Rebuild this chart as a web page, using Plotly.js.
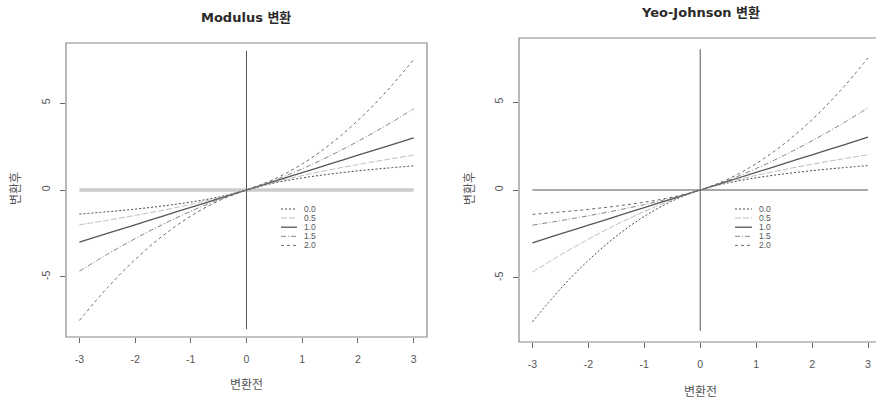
<!DOCTYPE html>
<html>
<head>
<meta charset="utf-8">
<script src="https://cdn.plot.ly/plotly-3.0.1.min.js"></script>
<style>html,body{margin:0;padding:0;background:#fff;}#chart{width:876px;height:401px;}</style>
</head>
<body>
<div id="chart"></div>
<script>
// ---- data ----
var xVals = [-3,-2.5,-2,-1.5,-1,-0.5,0,0.5,1,1.5,2,2.5,3];
var lambdaLabels = ["0.0","0.5","1.0","1.5","2.0"];

var modulus00 = [-1.386,-1.253,-1.099,-0.916,-0.693,-0.405,0,0.405,0.693,0.916,1.099,1.253,1.386];
var modulus05 = [-2.000,-1.742,-1.464,-1.162,-0.828,-0.449,0,0.449,0.828,1.162,1.464,1.742,2.000];
var modulus10 = [-3,-2.5,-2,-1.5,-1,-0.5,0,0.5,1,1.5,2,2.5,3];
var modulus15 = [-4.667,-3.699,-2.797,-1.969,-1.219,-0.558,0,0.558,1.219,1.969,2.797,3.699,4.667];
var modulus20 = [-7.5,-5.625,-4,-2.625,-1.5,-0.625,0,0.625,1.5,2.625,4,5.625,7.5];

var yeoJohnson00 = [-7.5,-5.625,-4,-2.625,-1.5,-0.625,0,0.405,0.693,0.916,1.099,1.253,1.386];
var yeoJohnson05 = [-4.667,-3.699,-2.797,-1.969,-1.219,-0.558,0,0.449,0.828,1.162,1.464,1.742,2.000];
var yeoJohnson10 = [-3,-2.5,-2,-1.5,-1,-0.5,0,0.5,1,1.5,2,2.5,3];
var yeoJohnson15 = [-2.000,-1.742,-1.464,-1.162,-0.828,-0.449,0,0.558,1.219,1.969,2.797,3.699,4.667];
var yeoJohnson20 = [-1.386,-1.253,-1.099,-0.916,-0.693,-0.405,0,0.625,1.5,2.625,4,5.625,7.5];

var xTicks = [-3,-2,-1,0,1,2,3];
var xTickText = ["-3","-2","-1","0","1","2","3"];
var yTicks = [-5,0,5];
var yTickText = ["-5","0","5"];
var refHx = [-3,3], refHy = [0,0];
var refVx = [0,0], refVy = [-8,8];

var panelTitles = ["Modulus 변환","Yeo-Johnson 변환"];
var xTitle = "변환전", yTitle = "변환후";

// ---- styles ----
var W = 876, H = 401;
var FONT = "Liberation Sans, Arial, 'Noto Sans CJK KR', sans-serif";
var TFONT = "DejaVu Sans, 'Noto Sans CJK KR', sans-serif";
var styles = [
  {color:'#4a4a4a', dash:'2px,2px', width:1},
  {color:'#c0c0c0', dash:'6px,2px', width:1},
  {color:'#555555', dash:'solid', width:1.3},
  {color:'#858585', dash:'5px,2px,1px,2px', width:1},
  {color:'#6a6a6a', dash:'3px,3px', width:1}
];
var modSeries = [modulus00, modulus05, modulus10, modulus15, modulus20];
var yjSeries = [yeoJohnson00, yeoJohnson05, yeoJohnson10, yeoJohnson15, yeoJohnson20];

var traces = [];
// reference lines
traces.push({x:refHx, y:refHy, xaxis:'x', yaxis:'y', mode:'lines', line:{color:'#cccccc', width:3.5}, hoverinfo:'skip'});
traces.push({x:refVx, y:refVy, xaxis:'x', yaxis:'y', mode:'lines', line:{color:'#555', width:1}, hoverinfo:'skip'});
traces.push({x:refHx, y:refHy, xaxis:'x2', yaxis:'y2', mode:'lines', line:{color:'#555', width:1.2}, hoverinfo:'skip'});
traces.push({x:refVx, y:refVy, xaxis:'x2', yaxis:'y2', mode:'lines', line:{color:'#555', width:1}, hoverinfo:'skip'});
for (var i=0;i<5;i++){
  traces.push({x:xVals, y:modSeries[i], xaxis:'x', yaxis:'y', mode:'lines', name:lambdaLabels[i],
    line:{color:styles[i].color, dash:styles[i].dash, width:styles[i].width, shape:'spline'}});
  traces.push({x:xVals, y:yjSeries[i], xaxis:'x2', yaxis:'y2', mode:'lines', name:lambdaLabels[i],
    line:{color:styles[i].color, dash:styles[i].dash, width:styles[i].width, shape:'spline'}});
}

function px(x){return x/W;}
function py(y){return 1-y/H;}

var axisCommon = {showgrid:false, zeroline:false, showline:false, ticks:'outside', ticklen:5,
  tickcolor:'#666', tickwidth:1, tickfont:{family:FONT, size:10.5, color:'#555'}};

var panels = [
  {l:66, r:427, t:43, b:337, xr:[-3.24,3.24], yr:[-8.45,8.45]},
  {l:519, r:876, t:38, b:342, xr:[-3.24,3.143], yr:[-8.64,8.64]}
];

var layout = {
  width:W, height:H, margin:{l:0,r:0,t:0,b:0}, showlegend:false,
  paper_bgcolor:'#fff', plot_bgcolor:'#fff',
  xaxis: Object.assign({}, axisCommon, {domain:[px(panels[0].l), px(panels[0].r)], range:panels[0].xr, tickvals:xTicks, ticktext:xTickText, anchor:'y', ticklabelstandoff:7}),
  yaxis: Object.assign({}, axisCommon, {domain:[py(panels[0].b), py(panels[0].t)], range:panels[0].yr, tickvals:yTicks, ticktext:yTickText, anchor:'x', tickangle:-90, ticklabelstandoff:6}),
  xaxis2: Object.assign({}, axisCommon, {domain:[px(panels[1].l), 1], range:panels[1].xr, tickvals:xTicks, ticktext:xTickText, anchor:'y2', ticklabelstandoff:7}),
  yaxis2: Object.assign({}, axisCommon, {domain:[py(panels[1].b), py(panels[1].t)], range:panels[1].yr, tickvals:yTicks, ticktext:yTickText, anchor:'x2', tickangle:-90, ticklabelstandoff:6}),
  shapes:[], annotations:[]
};

// frames
layout.shapes.push({type:'rect', xref:'paper', yref:'paper', x0:px(66), x1:px(427), y0:py(337), y1:py(43), line:{color:'#888', width:1.2}});
layout.shapes.push({type:'rect', xref:'paper', yref:'paper', x0:px(519), x1:px(882), y0:py(342), y1:py(38), line:{color:'#888', width:1.2}});

function note(text, x, y, size, color, family, angle){
  layout.annotations.push({text:text, xref:'paper', yref:'paper', x:px(x), y:py(y), xanchor:'center', yanchor:'middle',
    showarrow:false, textangle:angle||0, font:{family:family, size:size, color:color}});
}
// titles
note('<b>'+panelTitles[0]+'</b>', 246, 17, 13, '#2a2a2a', TFONT);
note('<b>'+panelTitles[1]+'</b>', 700, 12, 13, '#2a2a2a', TFONT);
// axis titles
note(xTitle, 246, 385, 12, '#555', FONT);
note(xTitle, 700, 392, 12, '#555', FONT);
note(yTitle, 16, 189, 12, '#555', FONT, -90);
note(yTitle, 470, 189, 12, '#555', FONT, -90);

// legends
var legendPos = [{x0:281, x1:297, tx:302, y0:209}, {x0:735, x1:752, tx:757, y0:209}];
legendPos.forEach(function(p){
  for (var i=0;i<5;i++){
    var yy = p.y0 + i*9.1;
    layout.shapes.push({type:'line', xref:'paper', yref:'paper', x0:px(p.x0), x1:px(p.x1), y0:py(yy), y1:py(yy),
      line:{color:styles[i].color, dash:styles[i].dash, width:styles[i].width}});
    layout.annotations.push({text:lambdaLabels[i], xref:'paper', yref:'paper', x:px(p.tx), y:py(yy), xanchor:'left', yanchor:'middle',
      showarrow:false, font:{family:FONT, size:8.5, color:'#555'}});
  }
});

Plotly.newPlot('chart', traces, layout, {staticPlot:true, displayModeBar:false});
</script>
</body>
</html>
